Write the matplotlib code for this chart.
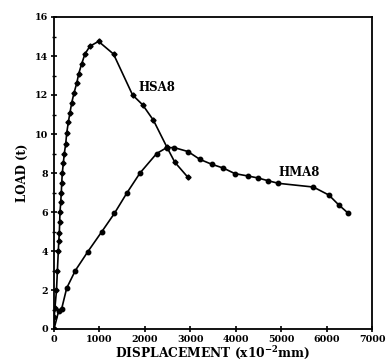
import matplotlib
matplotlib.use("Agg")
import matplotlib.pyplot as plt
from matplotlib.ticker import MultipleLocator

# HSA8 series
hsa_disp = [0, 5, 20, 55, 75, 95, 105, 117, 125, 132,
            148, 161, 170, 183, 205, 227, 258, 280, 315, 352,
            390, 440, 500, 545, 610, 680, 790, 980, 1310, 1730,
            1950, 2190, 2480, 2660, 2940]
hsa_load = [0, 0.63, 1.07, 2.0, 3.0, 4.0, 4.5, 4.9, 5.5, 6.0,
            6.5, 7.0, 7.5, 8.0, 8.5, 9.0, 9.5, 10.05, 10.6, 11.1,
            11.6, 12.1, 12.6, 13.1, 13.6, 14.1, 14.5, 14.75, 14.1, 12.0,
            11.5, 10.7, 9.35, 8.55, 7.8]

# HMA8 series
hma_disp = [0, 100, 170, 280, 470, 740, 1055, 1330, 1600, 1893,
            2260, 2480, 2650, 2950, 3210, 3470, 3730, 3980, 4260, 4480,
            4720, 4940, 5710, 6050, 6270, 6480]
hma_load = [0, 0.9, 1.05, 2.1, 3.0, 3.95, 5.0, 5.93, 6.96, 8.0,
            9.0, 9.3, 9.3, 9.1, 8.7, 8.45, 8.25, 7.97, 7.85, 7.75,
            7.6, 7.47, 7.28, 6.87, 6.36, 5.93]

x_ticks = [0, 1000, 2000, 3000, 4000, 5000, 6000, 7000]
y_ticks = [0, 2, 4, 6, 8, 10, 12, 14, 16]

plt.rcParams['font.family'] = ['DejaVu Serif']
plt.rcParams['font.weight'] = 'bold'
plt.rcParams['mathtext.fontset'] = 'dejavuserif'
plt.rcParams['mathtext.default'] = 'bf'

fig = plt.figure(figsize=(3.87, 3.63), dpi=100)
ax = fig.add_axes([54/387, 1-329/363, (372-54)/387, (329-17)/363])

ax.plot(hsa_disp, hsa_load, color='black', lw=1.2, marker='D', ms=2.6)
ax.plot(hma_disp, hma_load, color='black', lw=1.2, marker='o', ms=3.2)

ax.set_xlim(0, 7000)
ax.set_ylim(0, 16)
ax.set_xticks(x_ticks)
ax.set_yticks(y_ticks)
ax.yaxis.set_minor_locator(MultipleLocator(1))
ax.tick_params(which='major', direction='inout', length=5, width=1.2, labelsize=6.8, pad=2)
ax.tick_params(which='minor', direction='inout', length=3, width=1.0)
for lab in ax.get_xticklabels() + ax.get_yticklabels():
    lab.set_fontweight('bold')
for s in ax.spines.values():
    s.set_linewidth(1.3)

ax.set_xlabel('DISPLACEMENT (x10$^{-2}$mm)', fontsize=8.8, fontweight='bold', labelpad=0)
ax.set_ylabel('LOAD (t)', fontsize=8.5, fontweight='bold', labelpad=4)

ax.text(1850, 12.4, 'HSA8', fontsize=8.5, fontweight='bold', va='center', ha='left')
ax.text(4950, 8.05, 'HMA8', fontsize=8.5, fontweight='bold', va='center', ha='left')

fig.savefig('out.png', dpi=100)
